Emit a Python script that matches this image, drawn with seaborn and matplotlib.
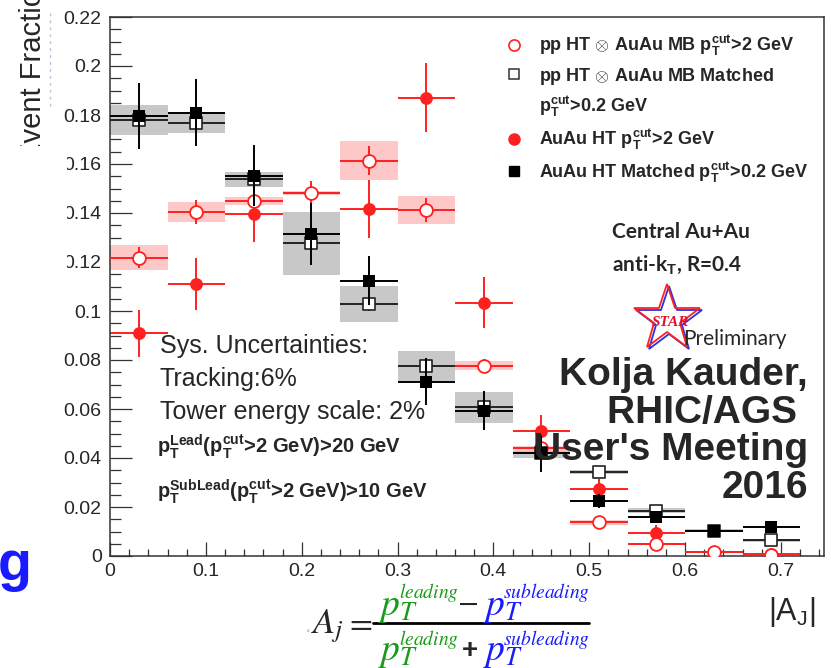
import matplotlib
matplotlib.use("Agg")
import matplotlib.pyplot as plt
from matplotlib.lines import Line2D
from matplotlib.patches import Rectangle
from matplotlib.ticker import MultipleLocator, FuncFormatter
import numpy as np
import seaborn as sns

#%% Values read off the STAR preliminary |A_J| figure
aj_bins = [0.03, 0.09, 0.15, 0.21, 0.27, 0.33, 0.39, 0.45, 0.51, 0.57, 0.63, 0.69]
aj_halfwidth = [0.03] * 12

# pp HT (x) AuAu MB, pT cut > 2 GeV  (open red circles)
pp_cut = [0.1218, 0.1405, 0.1449, 0.1480, 0.1614, 0.1412, 0.0776, 0.0440, 0.0138, 0.0048, 0.0015, 0.0005]
pp_cut_err = [0.0044, 0.0050, 0.0040, 0.0050, 0.0060, 0.0050, 0.0030, 0.0020, 0.0015, 0.0010, 0.0005, 0.0005]
pp_cut_sys = [0.0050, 0.0040, 0.0018, 0.0008, 0.0080, 0.0058, 0.0018, 0.0010, 0.0010, 0.0005, 0.0003, 0.0002]

# pp HT (x) AuAu MB, matched pT cut > 0.2 GeV  (open black squares)
pp_match = [0.1780, 0.1769, 0.1538, 0.1276, 0.1029, 0.0776, 0.0607, 0.0422, 0.0342, 0.0185, 0.0104, 0.0065]
pp_match_err = [0.0030, 0.0030, 0.0025, 0.0030, 0.0030, 0.0025, 0.0025, 0.0020, 0.0015, 0.0012, 0.0010, 0.0010]
pp_match_sys = [0.0060, 0.0042, 0.0030, 0.0128, 0.0075, 0.0060, 0.0063, 0.0024, 0.0008, 0.0010, 0.0006, 0.0006]

# AuAu HT, pT cut > 2 GeV  (filled red circles)
aa_cut = [0.0909, 0.1110, 0.1396, 0.1480, 0.1416, 0.1871, 0.1034, 0.0510, 0.0273, 0.0095, 0.0018, 0.0007]
aa_cut_err = [0.0096, 0.0105, 0.0115, 0.0040, 0.0120, 0.0140, 0.0105, 0.0065, 0.0040, 0.0030, 0.0015, 0.0010]

# AuAu HT, matched pT cut > 0.2 GeV  (filled black squares)
aa_match = [0.1796, 0.1810, 0.1553, 0.1314, 0.1124, 0.0712, 0.0593, 0.0419, 0.0224, 0.0160, 0.0103, 0.0117]
aa_match_err = [0.0135, 0.0135, 0.0125, 0.0128, 0.0100, 0.0095, 0.0080, 0.0075, 0.0030, 0.0020, 0.0015, 0.0020]

legend_labels = [
    r"pp HT $\otimes$ AuAu MB p$_\mathbf{T}^\mathbf{cut}$>2 GeV",
    r"pp HT $\otimes$ AuAu MB Matched",
    r"p$_\mathbf{T}^\mathbf{cut}$>0.2 GeV",
    r"AuAu HT p$_\mathbf{T}^\mathbf{cut}$>2 GeV",
    r"AuAu HT Matched p$_\mathbf{T}^\mathbf{cut}$>0.2 GeV",
]

W, H = 831, 668
def fx(x):
    return x / W
def fy(y):
    return 1 - y / H

RED = '#ff2020'
PINK = '#ffc8c8'
GREY = '#c8c8c8'

#%% Figure
sns.set_style("ticks")
plt.rcParams['font.family'] = ['Liberation Sans', 'DejaVu Sans']
plt.rcParams['mathtext.fontset'] = 'custom'
plt.rcParams['mathtext.rm'] = 'Liberation Sans'
plt.rcParams['mathtext.bf'] = 'Liberation Sans:bold'
plt.rcParams['mathtext.it'] = 'Liberation Sans:italic'

fig = plt.figure(figsize=(W / 100, H / 100), dpi=100)
fig.patch.set_facecolor('white')
ax = fig.add_axes([fx(110), fy(556), fx(824) - fx(110), fy(17) - fy(556)])
ax.set_facecolor('white')

x = np.array(aj_bins)
xe = np.array(aj_halfwidth)

# systematic boxes
ax.bar(x, 2 * np.array(pp_match_sys), bottom=np.array(pp_match) - np.array(pp_match_sys),
       width=2 * xe, color=GREY, linewidth=0, zorder=1)
ax.bar(x, 2 * np.array(pp_cut_sys), bottom=np.array(pp_cut) - np.array(pp_cut_sys),
       width=2 * xe, color=PINK, linewidth=0, zorder=1)

# AuAu HT pT>2 (filled red)
ax.errorbar(x, aa_cut, xerr=xe, yerr=aa_cut_err, fmt='none', ecolor=RED, elinewidth=1.4, zorder=2)
sns.scatterplot(x=x, y=aa_cut, ax=ax, marker='o', s=85, color=RED, edgecolor=RED, linewidth=0, zorder=3)

# pp HT x AuAu MB pT>2 (open red)
ax.errorbar(x, pp_cut, xerr=xe, yerr=pp_cut_err, fmt='none', ecolor=RED, elinewidth=1.4, zorder=4)
sns.scatterplot(x=x, y=pp_cut, ax=ax, marker='o', s=85, color='white', edgecolor=RED, linewidth=1.3, zorder=5)

# pp HT x AuAu MB matched (open black squares)
ax.errorbar(x, pp_match, xerr=xe, yerr=pp_match_err, fmt='none', ecolor='#222222', elinewidth=1.4, zorder=6)
sns.scatterplot(x=x, y=pp_match, ax=ax, marker='s', s=70, color='white', edgecolor='#222222', linewidth=1.2, zorder=7)

# AuAu HT matched (filled black squares)
ax.errorbar(x, aa_match, xerr=xe, yerr=aa_match_err, fmt='none', ecolor='black', elinewidth=1.4, zorder=8)
sns.scatterplot(x=x, y=aa_match, ax=ax, marker='s', s=75, color='black', edgecolor='black', linewidth=0, zorder=9)

# axes styling, ROOT-like
ax.set_xlim(0, 0.745)
ax.set_ylim(0, 0.22)
ax.xaxis.set_major_locator(MultipleLocator(0.1))
ax.xaxis.set_minor_locator(MultipleLocator(0.02))
ax.yaxis.set_major_locator(MultipleLocator(0.02))
ax.yaxis.set_minor_locator(MultipleLocator(0.005))
fmt = FuncFormatter(lambda v, p: '%g' % round(v, 3))
ax.xaxis.set_major_formatter(fmt)
ax.yaxis.set_major_formatter(fmt)
ax.tick_params(axis='both', which='both', direction='in', width=0.9, color='#333333',
               labelsize=14, top=False, right=False)
ax.tick_params(axis='y', which='major', length=16, pad=6)
ax.tick_params(axis='y', which='minor', length=8)
ax.tick_params(axis='x', which='major', length=10, pad=5)
ax.tick_params(axis='x', which='minor', length=5)
for s in ax.spines.values():
    s.set_visible(True)
    s.set_linewidth(1.1)
    s.set_color('#333333')
ax.set_xlabel('')
ax.set_ylabel('')

# legend
handles = [
    Line2D([], [], ls='', marker='o', ms=8, mfc='white', mec=RED, mew=1.2),
    Line2D([], [], ls='', marker='s', ms=7, mfc='white', mec='#333333', mew=1.1),
    Line2D([], [], ls='', marker=''),
    Line2D([], [], ls='', marker='o', ms=8, mfc=RED, mec=RED),
    Line2D([], [], ls='', marker='s', ms=7, mfc='black', mec='black'),
]
fig.legend(handles, legend_labels, loc='upper left', bbox_to_anchor=(fx(503), fy(33)),
           frameon=False, prop={'weight': 'bold', 'size': 13}, handlelength=1.2,
           handletextpad=0.8, labelspacing=0.42, borderpad=0, borderaxespad=0)

# annotations
fig.text(fx(612), fy(232), 'Central Au+Au', family='Lato', weight='bold', fontsize=15, va='center')
fig.text(fx(612), fy(265), r'anti-k$_\mathbf{T}$, R=0.4', family='Lato', weight='bold', fontsize=15, va='center')

fig.add_artist(Line2D([fx(669)], [fy(321)], marker='*', ms=50, mfc='none', mec='#3030e0', mew=1.3,
                      transform=fig.transFigure))
fig.add_artist(Line2D([fx(667)], [fy(319)], marker='*', ms=50, mfc='none', mec=RED, mew=1.3,
                      transform=fig.transFigure))
fig.text(fx(652), fy(322), 'STAR', family='Liberation Serif', style='italic', weight='bold',
         color='#e01030', fontsize=11, va='center')
fig.text(fx(683), fy(339), 'Preliminary', family='Lato', fontsize=15, va='center')

for i, line in enumerate(['Kolja Kauder,', 'RHIC/AGS ', "User's Meeting", '2016']):
    fig.text(fx(808), fy(375 + 37.5 * i), line, ha='right', va='center', weight='bold', fontsize=28)

for i, line in enumerate(['Sys. Uncertainties:', 'Tracking:6%', 'Tower energy scale: 2%']):
    fig.text(fx(160), fy(346 + 33 * i), line, ha='left', va='center', fontsize=18)

fig.text(fx(157), fy(447), r'p$_\mathbf{T}^\mathbf{Lead}$(p$_\mathbf{T}^\mathbf{cut}$>2 GeV)>20 GeV',
         weight='bold', fontsize=14.5, va='center')
fig.text(fx(157), fy(492), r'p$_\mathbf{T}^\mathbf{SubLead}$(p$_\mathbf{T}^\mathbf{cut}$>2 GeV)>10 GeV',
         weight='bold', fontsize=14.5, va='center')

# x-axis title and A_j definition
fig.text(fx(815), fy(612), r'|A$_\mathrm{J}$|', ha='right', va='center', fontsize=22)
GREEN = '#1a9a1a'
BLUE = '#1a1aff'
math_kw = dict(math_fontfamily='stix', va='baseline')
fig.text(fx(306), fy(633), '\u2218', fontsize=5, color='#999999', va='baseline')
fig.text(fx(311), fy(633), r'$A_j$', fontsize=26, **math_kw)
fig.text(fx(345), fy(632), r'$=$', fontsize=24, **math_kw)
for yb, ys, op, opx in [(615, 598, r'$-$', 457), (660, 645, '+', 462)]:
    fig.text(fx(378), fy(yb), r'$p_T$', fontsize=27, color=GREEN, **math_kw)
    fig.text(fx(399), fy(ys), r'$leading$', fontsize=14, color=GREEN, **math_kw)
    fig.text(fx(483), fy(yb), r'$p_T$', fontsize=27, color=BLUE, **math_kw)
    fig.text(fx(503), fy(ys), r'$subleading$', fontsize=14, color=BLUE, **math_kw)
    if op == '+':
        fig.text(fx(opx), fy(yb - 2), op, fontsize=20, weight='bold', va='baseline')
    else:
        fig.text(fx(opx), fy(yb - 4), op, fontsize=22, **math_kw)
fig.add_artist(Line2D([fx(373), fx(589)], [fy(623), fy(623)], color='black', lw=2, transform=fig.transFigure))

# y-axis title, partly hidden on the slide
fig.text(fx(33), fy(162), 'Event Fraction', rotation=90, ha='center', va='bottom', fontsize=21)
fig.add_artist(Line2D([fx(50), fx(50)], [fy(13), fy(110)], color='#8899bb', lw=1, ls=(0, (2, 3)),
                      alpha=0.6, transform=fig.transFigure))
fig.add_artist(Rectangle((0, fy(338)), fx(67), fy(146) - fy(338), transform=fig.transFigure,
                         facecolor='white', edgecolor='none', zorder=10))
fig.text(fx(-2), fy(566), 'g', color='#1a1aff', weight='bold', fontsize=40, va='center', ha='left')

fig.savefig('out.png', dpi=100)
